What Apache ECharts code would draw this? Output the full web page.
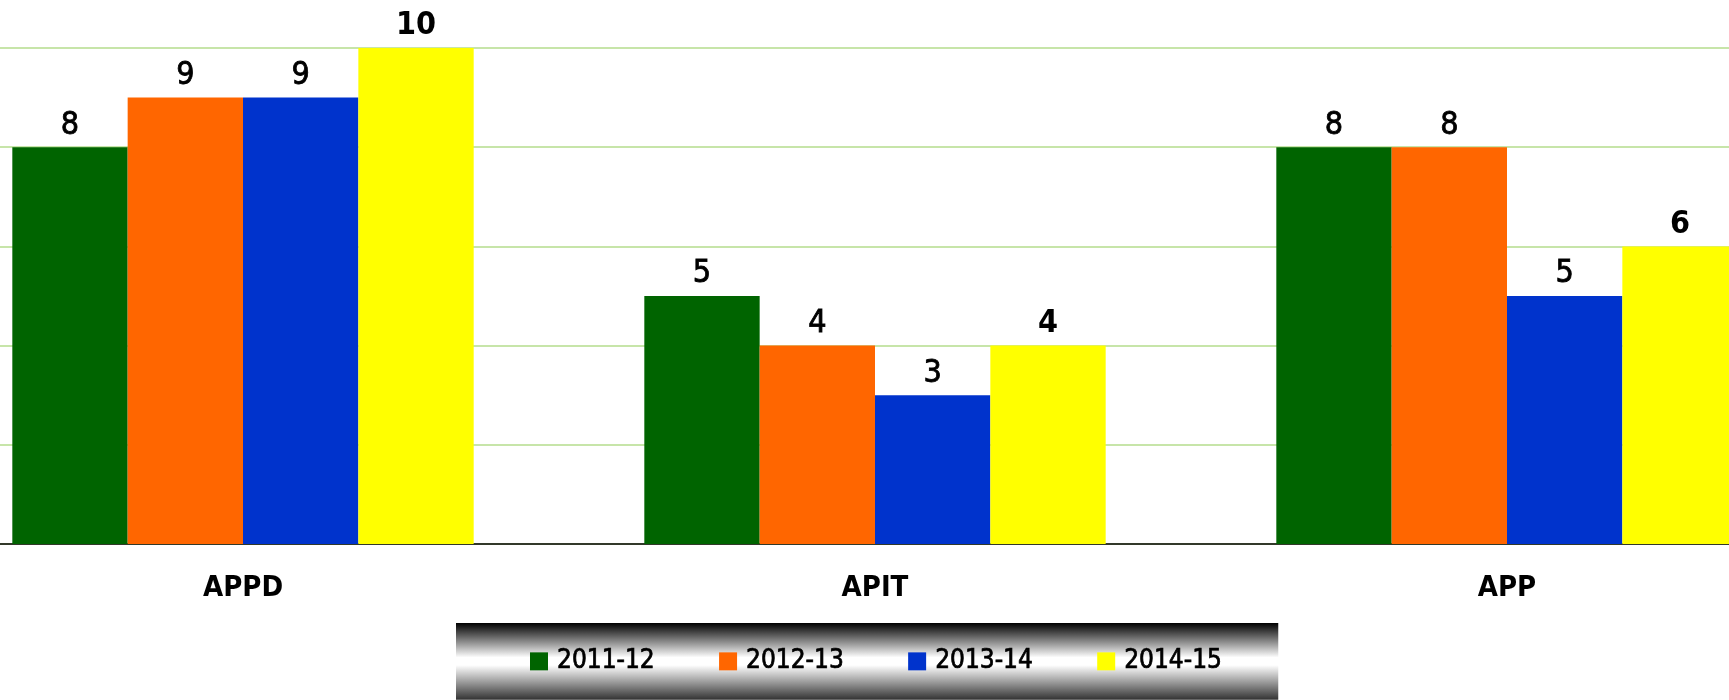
<!DOCTYPE html>
<html>
<head>
<meta charset="utf-8">
<script src="https://cdn.jsdelivr.net/npm/echarts@6/dist/echarts.min.js"></script>
<style>
  html, body { margin: 0; padding: 0; background: #fff; overflow: hidden; }
  /* the plot runs past both edges of the window, so the div is wider and shifted left */
  #mainchart { width: 1896px; height: 700px; margin-left: -73px; }
</style>
</head>
<body>
<div id="mainchart"></div>
<script>
var categories = ['APPD', 'APIT', 'APP'];
var seriesNames = ['2011-12', '2012-13', '2013-14', '2014-15'];
var values2011 = [8, 5, 8];
var values2012 = [9, 4, 8];
var values2013 = [9, 3, 5];
var values2014 = [10, 4, 6];
var yTicks = [0, 2, 4, 6, 8, 10];

var colors = ['#006400', '#ff6600', '#0033cc', '#ffff00'];
var font = "'Liberation Sans Narrow', 'DejaVu Sans Condensed', sans-serif";

var myChart = echarts.init(document.getElementById('mainchart'));

function makeSeries(name, data, color, bold) {
    return {
        name: name,
        type: 'bar',
        data: data,
        barGap: '0%',
        barCategoryGap: '27%',
        itemStyle: { color: color },
        label: {
            show: true,
            position: 'top',
            distance: 6,
            color: '#000',
            fontFamily: font,
            fontSize: 32,
            fontWeight: bold ? 'bold' : 'normal',
            // thin stroke gives the medium weight of the original
            textBorderColor: '#000',
            textBorderWidth: bold ? 0 : 0.8
        }
    };
}

var option = {
    animation: false,
    color: colors,
    grid: { left: 0, right: 0, top: 48, bottom: 156 },
    legend: {
        data: seriesNames,
        left: 529,
        top: 623,
        padding: [25, 56, 25, 74],
        itemWidth: 18,
        itemHeight: 18,
        itemGap: 64,
        icon: 'rect',
        backgroundColor: new echarts.graphic.LinearGradient(0, 0, 0, 1, [
            { offset: 0, color: '#000000' },
            { offset: 0.45, color: '#ffffff' },
            { offset: 0.55, color: '#ffffff' },
            { offset: 1, color: '#333333' }
        ]),
        textStyle: {
            color: '#000',
            fontFamily: font,
            fontSize: 26,
            padding: [0, 0, 0, 4],
            textBorderColor: '#000',
            textBorderWidth: 0.7
        }
    },
    xAxis: {
        type: 'category',
        data: categories,
        axisLine: { lineStyle: { color: '#000', width: 1.5 } },
        axisTick: { length: 11, lineStyle: { color: '#000' } },
        axisLabel: {
            margin: 30,
            color: '#000',
            fontFamily: font,
            fontSize: 29,
            fontWeight: 'bold'
        }
    },
    yAxis: {
        type: 'value',
        min: yTicks[0],
        max: yTicks[yTicks.length - 1],
        interval: yTicks[1] - yTicks[0],
        axisLine: { show: false },
        axisTick: { show: false },
        axisLabel: { show: false },
        splitLine: { lineStyle: { color: '#b5dc8c', width: 1.5 } }
    },
    series: [
        makeSeries(seriesNames[0], values2011, colors[0], false),
        makeSeries(seriesNames[1], values2012, colors[1], false),
        makeSeries(seriesNames[2], values2013, colors[2], false),
        makeSeries(seriesNames[3], values2014, colors[3], true)
    ]
};

myChart.setOption(option);
</script>
</body>
</html>
